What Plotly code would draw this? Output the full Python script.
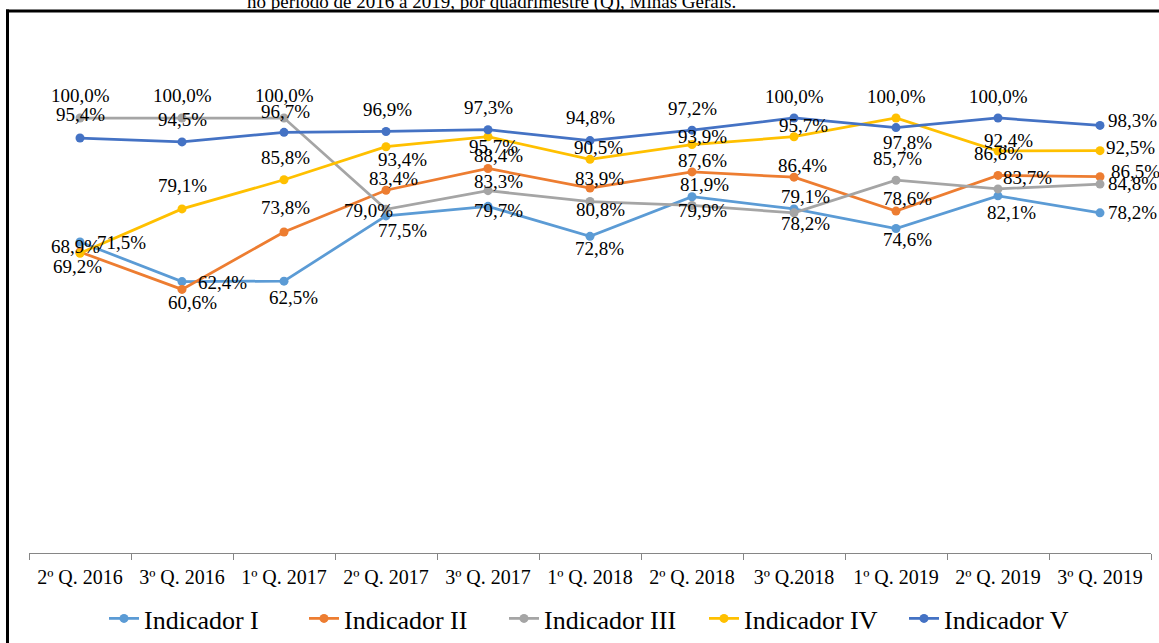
import plotly.graph_objects as go

categories = ["2º Q. 2016", "3º Q. 2016", "1º Q. 2017", "2º Q. 2017", "3º Q. 2017",
              "1º Q. 2018", "2º Q. 2018", "3º Q.2018", "1º Q. 2019", "2º Q. 2019", "3º Q. 2019"]

ind_I = [71.5, 62.4, 62.5, 77.5, 79.7, 72.8, 81.9, 79.1, 74.6, 82.1, 78.2]
ind_II = [69.2, 60.6, 73.8, 83.4, 88.4, 83.9, 87.6, 86.4, 78.6, 86.8, 86.5]
ind_III = [100.0, 100.0, 100.0, 79.0, 83.3, 80.8, 79.9, 78.2, 85.7, 83.7, 84.8]
ind_IV = [68.9, 79.1, 85.8, 93.4, 95.7, 90.5, 93.9, 95.7, 100.0, 92.4, 92.5]
ind_V = [95.4, 94.5, 96.7, 96.9, 97.3, 94.8, 97.2, 100.0, 97.8, 100.0, 98.3]

series_names = ["Indicador I", "Indicador II", "Indicador III", "Indicador IV", "Indicador V"]
series_values = [ind_I, ind_II, ind_III, ind_IV, ind_V]

# styling
colors = ["#5B9BD5", "#ED7D31", "#A5A5A5", "#FFC000", "#4472C4"]
FONT = "Liberation Serif, Times New Roman, serif"

# data-label offsets (pixels: dx right, dy down) per series, per point
label_offsets = [
    [(41, 1), (40, 1), (9, 16), (16, 15), (10, 4), (9, 12), (12, -12), (11, -12), (11, 11), (13, 17), (32, 0)],
    [(-3, 15), (10, 13), (1, -24), (7, -12), (10, -13), (9, -10), (10, -11), (8, -12), (11, -13), (0, -22), (35, -5)],
    [(0, -23), (0, -23), (0, -23), (-18, 1), (10, -9), (10, 8), (10, 5), (11, 11), (1, -22), (29, -11), (32, -1)],
    [(-5, -7), (0, -23), (1, -22), (16, 13), (5, 10), (8, -12), (10, -8), (9, -11), (0, -22), (10, -11), (30, -3)],
    [(0, -24), (0, -22), (1, -21), (1, -22), (0, -22), (0, -23), (0, -22), (0, -22), (11, 15), (0, -22), (32, -5)],
]

fig = go.Figure()
for name, vals, col in zip(series_names, series_values, colors):
    fig.add_trace(go.Scatter(
        x=categories, y=vals, name=name, mode="lines+markers",
        line=dict(color=col, width=2.75),
        marker=dict(color=col, size=9),
        hoverinfo="skip",
    ))

annotations = []
for vals, offs in zip(series_values, label_offsets):
    for cat, v, (dx, dy) in zip(categories, vals, offs):
        annotations.append(dict(
            x=cat, y=v, xref="x", yref="y",
            text=f"{v:.1f}%".replace(".", ","),
            showarrow=False, xanchor="center", yanchor="middle",
            xshift=dx, yshift=-dy,
            font=dict(family=FONT, size=19, color="#000000"),
        ))

W, H = 1159, 643
ml, mr, mt, mb = 29, 8, 31, 90
pw, ph = W - ml - mr, H - mt - mb

def px_x(p):
    return (p - ml) / pw

def px_y(p):
    return (H - mb - p) / ph

# partially visible caption above the frame
annotations.append(dict(
    x=px_x(491.5), y=px_y(14.5), xref="paper", yref="paper",
    text="no período de 2016 a 2019, por quadrimestre (Q), Minas Gerais.",
    showarrow=False, xanchor="center", yanchor="bottom",
    font=dict(family=FONT, size=19, color="#000000"),
))

shapes = [
    dict(type="line", xref="paper", yref="paper",
         x0=px_x(6), x1=px_x(1200), y0=px_y(11), y1=px_y(11),
         line=dict(color="#000000", width=3)),
    dict(type="line", xref="paper", yref="paper",
         x0=px_x(7.5), x1=px_x(7.5), y0=px_y(700), y1=px_y(9.5),
         line=dict(color="#000000", width=3)),
]

fig.update_layout(
    width=W, height=H,
    margin=dict(l=ml, r=mr, t=mt, b=mb, pad=0, autoexpand=False),
    paper_bgcolor="white", plot_bgcolor="white",
    showlegend=True,
    legend=dict(orientation="h", xref="container", yref="container",
                x=604 / W, xanchor="center", y=(H - 618.5) / H, yanchor="middle",
                font=dict(family=FONT, size=26, color="#000000"),
                entrywidth=155, entrywidthmode="pixels",
                bgcolor="rgba(0,0,0,0)", borderwidth=0),
    annotations=annotations,
    shapes=shapes,
    xaxis=dict(type="category", range=[-0.5, 10.5], tickson="boundaries",
               ticks="outside", ticklen=6, tickcolor="#868686", tickwidth=1,
               showline=True, linecolor="#868686", linewidth=1,
               showgrid=False, zeroline=False, ticklabelstandoff=6,
               tickfont=dict(family=FONT, size=20, color="#000000")),
    yaxis=dict(range=[0, 120], visible=False, showgrid=False, zeroline=False),
)

fig.write_html("out.html", config={"displayModeBar": False},
               post_script="document.body.style.margin='0';")
